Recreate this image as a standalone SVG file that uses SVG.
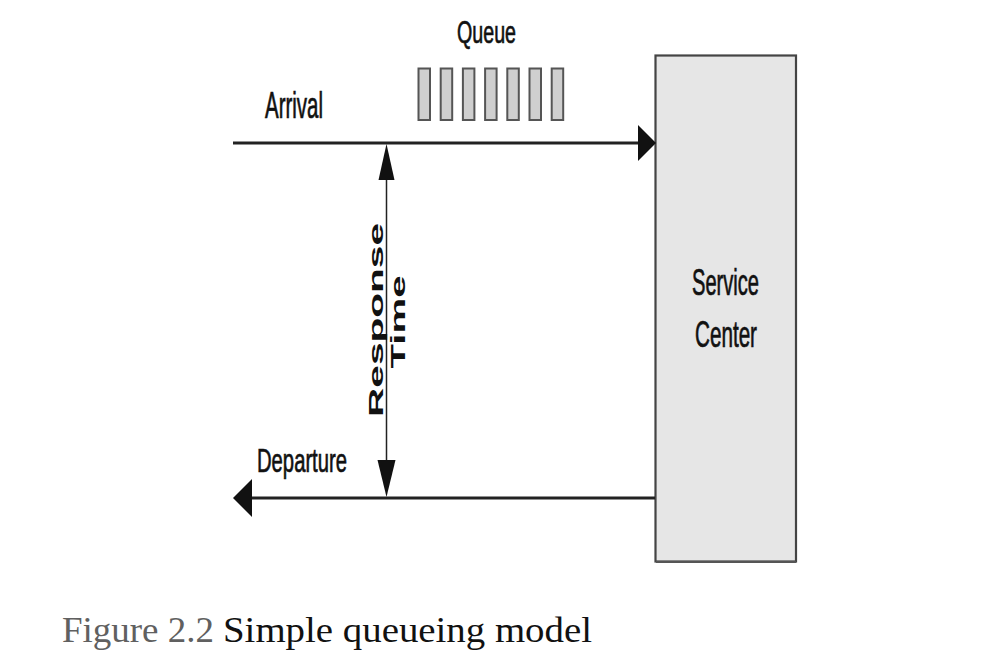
<svg xmlns="http://www.w3.org/2000/svg" width="996" height="664" viewBox="0 0 996 664">
  <style>
    .lbl { font-family: "Liberation Sans", Arial, sans-serif; fill: #111; stroke: #111; stroke-width: 0.7px; }
    .rt { font-family: "Liberation Sans", Arial, sans-serif; font-weight: bold; fill: #111; }
    .q { fill: #cfcfcf; stroke: #555; stroke-width: 2; }
    .ln { stroke: #222; fill: none; }
    .ah { fill: #111; }
    .cap { font-family: "Liberation Serif", "Times New Roman", serif; font-size: 35px; }
  </style>
  <rect width="996" height="664" fill="#ffffff"/>

  <g id="queue">
    <text class="lbl" x="457" y="43" font-size="32" textLength="59" lengthAdjust="spacingAndGlyphs">Queue</text>
    <rect class="q" x="418.5" y="68.5" width="11.5" height="51.5"/>
    <rect class="q" x="440.7" y="68.5" width="11.5" height="51.5"/>
    <rect class="q" x="462.9" y="68.5" width="11.5" height="51.5"/>
    <rect class="q" x="485.1" y="68.5" width="11.5" height="51.5"/>
    <rect class="q" x="507.3" y="68.5" width="11.5" height="51.5"/>
    <rect class="q" x="529.5" y="68.5" width="11.5" height="51.5"/>
    <rect class="q" x="551.7" y="68.5" width="11.5" height="51.5"/>
  </g>

  <g id="service-center">
    <rect x="655.5" y="55.5" width="140.5" height="506" fill="#e6e6e6" stroke="#444" stroke-width="2.2"/>
    <line x1="656" y1="562" x2="796" y2="562" stroke="#555" stroke-width="2"/>
    <text class="lbl" x="692" y="295" font-size="36" textLength="67" lengthAdjust="spacingAndGlyphs">Service</text>
    <text class="lbl" x="695" y="347" font-size="36" textLength="62" lengthAdjust="spacingAndGlyphs">Center</text>
  </g>

  <g id="connectors">
    <g id="arrival">
      <line class="ln" x1="233" y1="143" x2="640" y2="143" stroke-width="3"/>
      <polygon class="ah" points="638,125 656,143 638,161"/>
      <text class="lbl" x="265" y="118" font-size="36" textLength="58" lengthAdjust="spacingAndGlyphs">Arrival</text>
    </g>
    <g id="departure">
      <line class="ln" x1="250" y1="498" x2="655" y2="498" stroke-width="3"/>
      <polygon class="ah" points="252,479 233,498 252,517"/>
      <text class="lbl" x="257" y="472" font-size="34" textLength="90" lengthAdjust="spacingAndGlyphs">Departure</text>
    </g>
    <g id="response-time">
      <line class="ln" x1="386.5" y1="175" x2="386.5" y2="465" stroke-width="1.5"/>
      <polygon class="ah" points="386.5,144 378.5,180 394.5,180"/>
      <polygon class="ah" points="386.5,497 377.5,460 395.5,460"/>
      <text class="rt" transform="translate(383,320) rotate(-90)" text-anchor="middle" font-size="21" textLength="194" lengthAdjust="spacingAndGlyphs">Response</text>
      <text class="rt" transform="translate(405,322) rotate(-90)" text-anchor="middle" font-size="20" textLength="93" lengthAdjust="spacingAndGlyphs">Time</text>
    </g>
  </g>

  <g id="caption">
    <text class="cap" x="62" y="642" fill="#606060" textLength="152" lengthAdjust="spacingAndGlyphs">Figure 2.2</text>
    <text class="cap" x="223" y="642" fill="#111" textLength="369" lengthAdjust="spacingAndGlyphs">Simple queueing model</text>
  </g>
</svg>
